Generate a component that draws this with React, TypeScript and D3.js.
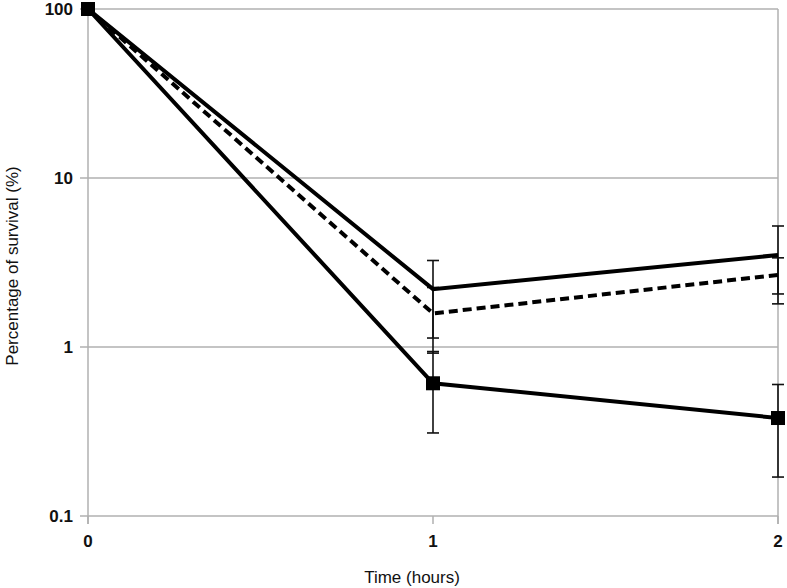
import React from "react";
import * as d3 from "d3";

const times = [0, 1, 2];
const yTicks = [0.1, 1, 10, 100];
const yTickLabels = ["0.1", "1", "10", "100"];
const xTickLabels = ["0", "1", "2"];

const upperMean = [100, 2.2, 3.5];
const upperLow = [100, 1.13, 1.8];
const upperHigh = [100, 3.25, 5.2];

const dashedMean = [100, 1.58, 2.67];
const dashedLow = [100, 0.92, 2.06];
const dashedHigh = [100, 2.25, 3.37];

const squareMean = [100, 0.61, 0.38];
const squareLow = [100, 0.31, 0.17];
const squareHigh = [100, 0.94, 0.6];

const series = [
  { name: "upper", mean: upperMean, low: upperLow, high: upperHigh, dash: null, marker: false },
  { name: "dashed", mean: dashedMean, low: dashedLow, high: dashedHigh, dash: "9,5", marker: false },
  { name: "square", mean: squareMean, low: squareLow, high: squareHigh, dash: null, marker: true },
];

export default function App() {
  const W = 787, H = 588;
  const left = 88, right = 778, top = 9, bottom = 516;
  const x = d3.scaleLinear().domain([0, 2]).range([left, right]);
  const y = d3.scaleLog().domain([0.1, 100]).range([bottom, top]);
  const grid = "#b0b0b0";
  const font = "Liberation Sans, Arial, sans-serif";
  const line = d3.line<number>().x((_, i) => x(times[i])).y((d) => y(d));

  return (
    <svg width={W} height={H} style={{ position: "absolute", left: 0, top: 0, background: "#fff" }}>
      {yTicks.map((t, i) => (
        <g key={"y" + i}>
          <line x1={left - 8} x2={right} y1={y(t)} y2={y(t)} stroke={grid} strokeWidth={1.5} />
          <text x={73} y={y(t)} dy="0.35em" textAnchor="end" fontFamily={font} fontSize={17} fontWeight="bold" fill="#111">
            {yTickLabels[i]}
          </text>
        </g>
      ))}
      <line x1={left} x2={left} y1={top} y2={bottom + 8} stroke={grid} strokeWidth={1.5} />
      <line x1={right} x2={right} y1={top} y2={bottom + 8} stroke={grid} strokeWidth={1.5} />
      {times.map((t, i) => (
        <g key={"x" + i}>
          <line x1={x(t)} x2={x(t)} y1={bottom} y2={bottom + 8} stroke={grid} strokeWidth={1.5} />
          <text x={x(t)} y={541} dy="0.35em" textAnchor="middle" fontFamily={font} fontSize={17} fontWeight="bold" fill="#111">
            {xTickLabels[i]}
          </text>
        </g>
      ))}
      {series.map((s) =>
        times.map((t, i) =>
          i === 0 ? null : (
            <g key={s.name + "e" + i} stroke="#111" strokeWidth={1.6}>
              <line x1={x(t)} x2={x(t)} y1={y(s.high[i])} y2={y(s.low[i])} />
              <line x1={x(t) - 6} x2={x(t) + 6} y1={y(s.high[i])} y2={y(s.high[i])} />
              <line x1={x(t) - 6} x2={x(t) + 6} y1={y(s.low[i])} y2={y(s.low[i])} />
            </g>
          )
        )
      )}
      {series.map((s) => (
        <path
          key={s.name}
          d={line(s.mean) || ""}
          fill="none"
          stroke="#000"
          strokeWidth={4}
          strokeDasharray={s.dash || undefined}
          strokeLinejoin="miter"
        />
      ))}
      {series
        .filter((s) => s.marker)
        .map((s) =>
          s.mean.map((v, i) => (
            <rect key={s.name + "m" + i} x={x(times[i]) - 7} y={y(v) - 7} width={14} height={14} fill="#000" />
          ))
        )}
      <text
        transform={`translate(12,266) rotate(-90)`}
        textAnchor="middle"
        dy="0.35em"
        fontFamily={font}
        fontSize={17}
        fill="#111"
      >
        Percentage of survival (%)
      </text>
      <text x={412} y={577} dy="0.35em" textAnchor="middle" fontFamily={font} fontSize={17} fill="#111">
        Time (hours)
      </text>
    </svg>
  );
}
